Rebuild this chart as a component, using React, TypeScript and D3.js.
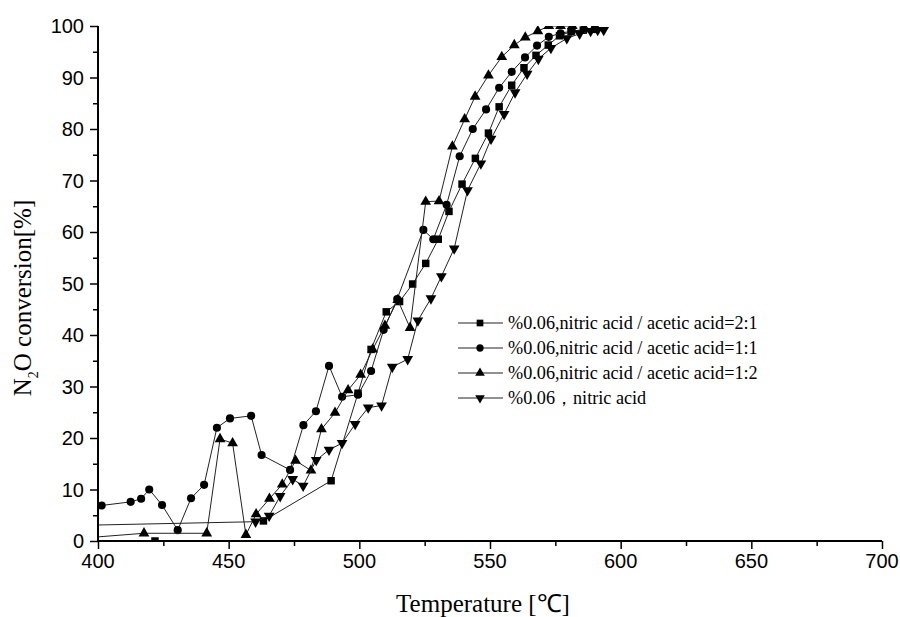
import React, { useRef, useEffect } from 'react';
import * as d3 from 'd3';

// temperature [°C] / N2O conversion [%]
// NaN in conv marks a break in the line
const tempSquare = [421.8, NaN, 463.3, 489.2, 499.5, 504.5, 510.3, 515.4, 520.4, 525.4, 530.2, 534.3, 539.3, 544.4, 549.4, 553.5, 558.3, 563.0, 567.6, 572.3, 576.6, 581.0, 585.7, 590.2];
const convSquare = [0, NaN, 3.9, 11.7, 28.7, 37.2, 44.5, 46.5, 49.9, 53.9, 58.6, 64.0, 69.3, 74.3, 79.2, 84.3, 88.5, 91.9, 94.3, 96.3, 98.1, 98.9, 99.2, 99.4];

const tempCircle = [401.4, 412.5, 416.5, 419.6, 424.5, 430.5, 435.6, 440.6, 445.5, 450.5, 458.6, 462.6, 473.5, 478.6, 483.4, 488.4, 493.4, 499.5, 504.5, 509.3, 514.5, 524.5, 528.3, 533.4, 538.4, 543.4, 548.5, 553.5, 558.3, 563.4, 568.0, 572.5, 577.0, 581.3, 586.0, 590.0];
const convCircle = [6.9, 7.6, 8.2, 10.0, 7.0, 2.1, 8.3, 10.9, 22.0, 23.8, 24.3, 16.7, 13.8, 22.5, 25.2, 34.0, 28.0, 28.4, 33.0, 41.0, 47.0, 60.4, 58.6, 65.3, 74.7, 80.0, 83.8, 88.0, 91.1, 93.9, 96.2, 97.9, 98.6, 99.0, 99.3, 99.4];

const tempTriangle = [390, 417.6, 441.6, 446.7, 451.5, 456.6, 460.5, 465.6, 470.5, 475.6, 481.5, 485.5, 490.7, 495.7, 500.5, 505.1, 509.8, 514.7, 519.4, 525.4, 530.5, 535.6, 540.3, 544.3, 549.4, 554.5, 559.3, 563.5, 568.3, 572.5, 577.0, 581.5];
const convTriangle = [0.4, 1.5, 1.5, 19.8, 19.0, 1.2, 5.2, 8.2, 11.0, 15.6, 13.7, 21.7, 24.9, 29.3, 32.3, 37.2, 41.8, 46.8, 41.4, 65.9, 66.0, 76.6, 81.9, 86.3, 90.4, 94.0, 96.3, 97.8, 99.0, 100, 100, 100];

const tempDown = [390, 460.3, 465.5, 469.7, 474.5, 478.5, 483.5, 488.4, 493.4, 498.4, 503.4, 508.5, 512.6, 518.5, 522.4, 527.4, 531.4, 536.3, 541.4, 546.5, 550.4, 555.4, 559.6, 564.2, 568.5, 573.3, 579.4, 584.3, 588.5, 591.2, 593.5];
const convDown = [3.0, 3.75, 4.9, 8.7, 12.0, 10.7, 15.7, 17.7, 19.0, 22.7, 25.9, 26.3, 33.8, 35.3, 42.8, 47.1, 51.4, 56.8, 68.1, 73.3, 78.1, 82.9, 87.1, 90.7, 93.6, 95.7, 97.6, 98.5, 99.0, 99.2, 99.2];

const seriesNames = [
    '%0.06,nitric acid / acetic acid=2:1',
    '%0.06,nitric acid / acetic acid=1:1',
    '%0.06,nitric acid / acetic acid=1:2',
    '%0.06，nitric acid',
];

const xTicks = [400, 450, 500, 550, 600, 650, 700];
const yTicks = [0, 10, 20, 30, 40, 50, 60, 70, 80, 90, 100];

const App = () => {
    const svgRef = useRef(null);
    const width = 900;
    const height = 617;

    useEffect(() => {
        const svg = d3.select(svgRef.current);
        svg.selectAll('*').remove();

        const left = 98, right = 882, top = 26, bottom = 541;

        const x = d3.scaleLinear().domain([400, 700]).range([left, right]);
        const y = d3.scaleLinear().domain([0, 100]).range([bottom, top]);

        const series = [
            { name: seriesNames[0], t: tempSquare, c: convSquare, symbol: d3.symbolSquare, size: 56, rot: 0 },
            { name: seriesNames[1], t: tempCircle, c: convCircle, symbol: d3.symbolCircle, size: 52, rot: 0 },
            { name: seriesNames[2], t: tempTriangle, c: convTriangle, symbol: d3.symbolTriangle, size: 50, rot: 0 },
            { name: seriesNames[3], t: tempDown, c: convDown, symbol: d3.symbolTriangle, size: 50, rot: 180 },
        ];

        // clip to the plot area
        svg.append('defs')
            .append('clipPath')
            .attr('id', 'plot-clip')
            .append('rect')
            .attr('x', left)
            .attr('y', top)
            .attr('width', right - left)
            .attr('height', bottom - top);

        const plot = svg.append('g').attr('clip-path', 'url(#plot-clip)');

        const line = d3.line()
            .defined((d) => !isNaN(d[1]))
            .x((d) => x(d[0]))
            .y((d) => y(d[1]));

        series.forEach((s) => {
            const pts = s.t.map((t, i) => [t, s.c[i]]);
            plot.append('path')
                .datum(pts)
                .attr('d', line)
                .attr('fill', 'none')
                .attr('stroke', '#222')
                .attr('stroke-width', 1);

            plot.selectAll(null)
                .data(pts.filter((d) => !isNaN(d[1])))
                .enter()
                .append('path')
                .attr('d', d3.symbol().type(s.symbol).size(s.size))
                .attr('transform', (d) => `translate(${x(d[0])},${y(d[1])}) rotate(${s.rot})`)
                .attr('fill', '#000');
        });

        // x axis
        const xAxis = svg.append('g').attr('transform', `translate(0,${bottom})`);
        xAxis.call(
            d3.axisBottom(x).tickValues(d3.range(400, 701, 25)).tickSize(7).tickFormat(() => '')
        );
        xAxis.selectAll('.tick line')
            .attr('y2', (d) => (d % 50 === 0 ? 8 : 5))
            .attr('stroke-width', 1.5);
        xAxis.selectAll('.domain').attr('stroke-width', 2).attr('d', `M${left},0H${right}`);

        svg.append('g')
            .selectAll('text')
            .data(xTicks)
            .enter()
            .append('text')
            .attr('x', (d) => x(d))
            .attr('y', bottom + 27)
            .attr('text-anchor', 'middle')
            .attr('font-family', '"Liberation Sans", Arial, sans-serif')
            .attr('font-size', 20)
            .text((d) => d);

        // y axis
        const yAxis = svg.append('g').attr('transform', `translate(${left},0)`);
        yAxis.call(
            d3.axisLeft(y).tickValues(d3.range(0, 101, 5)).tickSize(7).tickFormat(() => '')
        );
        yAxis.selectAll('.tick line')
            .attr('x2', (d) => (d % 10 === 0 ? -8 : -5))
            .attr('stroke-width', 1.5);
        yAxis.selectAll('.domain').attr('stroke-width', 2).attr('d', `M0,${top}V${bottom}`);

        svg.append('g')
            .selectAll('text')
            .data(yTicks)
            .enter()
            .append('text')
            .attr('x', left - 14)
            .attr('y', (d) => y(d) + 7)
            .attr('text-anchor', 'end')
            .attr('font-family', '"Liberation Sans", Arial, sans-serif')
            .attr('font-size', 20)
            .text((d) => d);

        // axis titles
        svg.append('text')
            .attr('x', 483)
            .attr('y', 612)
            .attr('text-anchor', 'middle')
            .attr('font-family', '"Liberation Serif", "Times New Roman", serif')
            .attr('font-size', 25)
            .text('Temperature [℃]');

        const yTitle = svg.append('text')
            .attr('transform', `translate(31,298) rotate(-90)`)
            .attr('text-anchor', 'middle')
            .attr('font-family', '"Liberation Serif", "Times New Roman", serif')
            .attr('font-size', 25);
        yTitle.append('tspan').text('N');
        yTitle.append('tspan').attr('font-size', 14).attr('dy', 7).text('2');
        yTitle.append('tspan').attr('dy', -7).text('O conversion[%]');

        // legend
        const legend = svg.append('g').attr('transform', 'translate(458,323)');
        series.forEach((s, i) => {
            const g = legend.append('g').attr('transform', `translate(0,${i * 25})`);
            g.append('line')
                .attr('x1', 0).attr('x2', 45)
                .attr('y1', 0).attr('y2', 0)
                .attr('stroke', '#222')
                .attr('stroke-width', 1);
            g.append('path')
                .attr('d', d3.symbol().type(s.symbol).size(s.size * 0.8))
                .attr('transform', `translate(22,0) rotate(${s.rot})`)
                .attr('fill', '#000');
            g.append('text')
                .attr('x', 50)
                .attr('y', 6)
                .attr('font-family', '"Liberation Serif", "Times New Roman", serif')
                .attr('font-size', 18.2)
                .text(s.name);
        });
    }, []);

    return (
        <svg
            ref={svgRef}
            width={width}
            height={height}
            style={{ position: 'absolute', left: 0, top: 0, background: '#fff' }}
        ></svg>
    );
};

export default App;
